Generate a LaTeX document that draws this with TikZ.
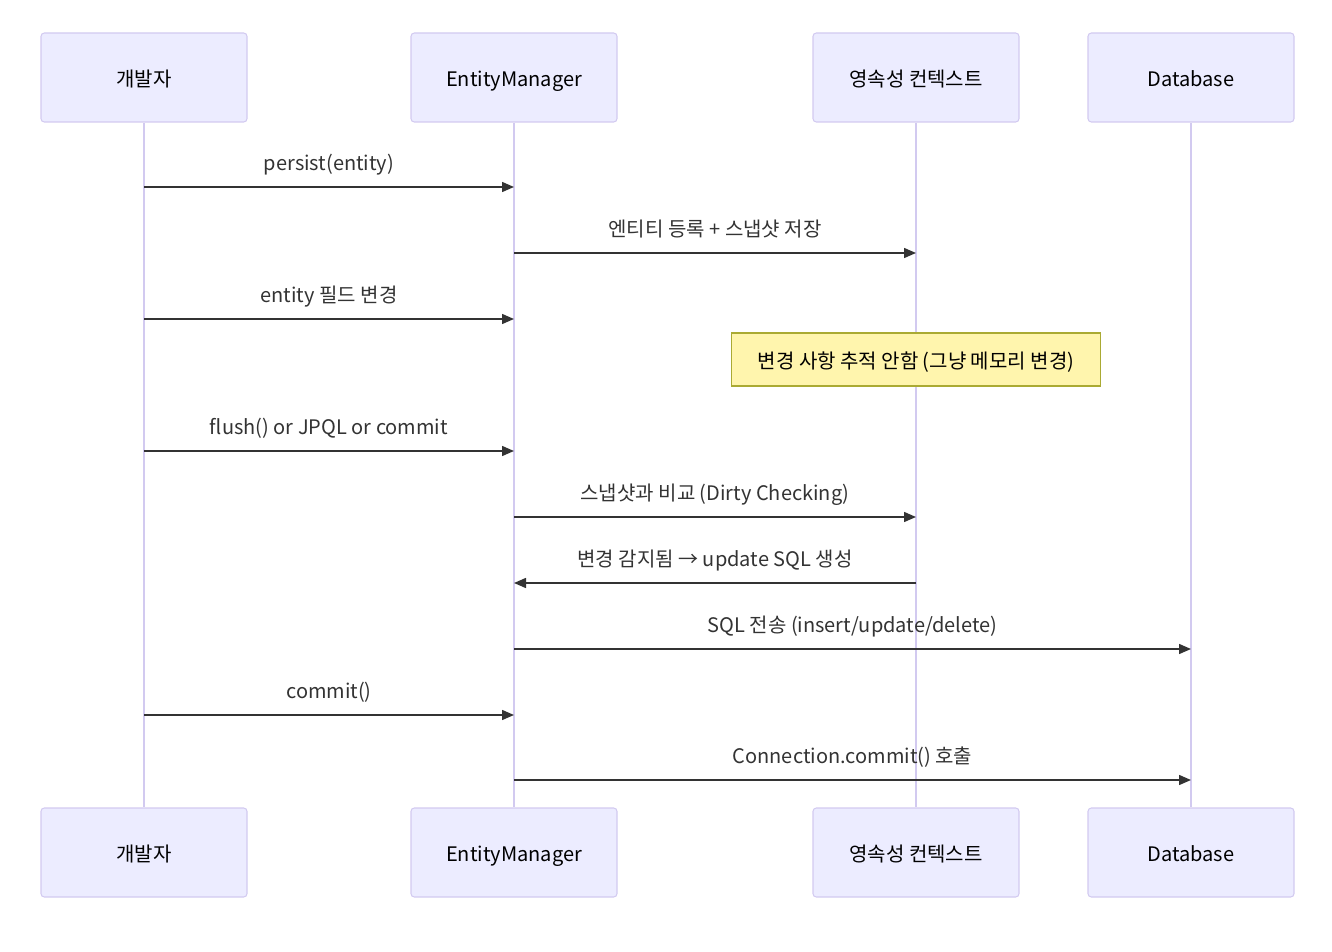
\documentclass[tikz,border=0pt]{standalone}
\usepackage{fontspec}
\setmainfont{Noto Sans CJK KR}
\usetikzlibrary{arrows.meta, positioning, backgrounds}
\definecolor{cActor}{HTML}{ECECFF}
\definecolor{cActorLine}{HTML}{D2CAF0}
\definecolor{cNote}{HTML}{FFF5AD}
\definecolor{cNoteLine}{HTML}{AAAA33}
\definecolor{cMsg}{HTML}{333333}

\begin{document}
\begin{tikzpicture}[
  x=0.75pt, y=-0.75pt,
  font=\fontsize{15}{17}\selectfont,
  >={Triangle[length=9pt, width=7.5pt]},
  actor/.style={rectangle, rounded corners=2.5pt, draw=cActorLine, line width=0.8pt,
                fill=cActor, minimum width=154.5pt, minimum height=66.75pt, inner sep=2pt,
                text height=16pt, text depth=2pt},
  life/.style={draw=cActorLine, line width=1.4pt},
  msg/.style={->, draw=cMsg, fill=cMsg, line width=1.1pt},
  lbl/.style={midway, yshift=16pt, inner sep=1pt, text=cMsg,
              text height=11pt, text depth=4pt},
  note/.style={rectangle, draw=cNoteLine, line width=0.8pt, fill=cNote,
               minimum width=276.75pt, minimum height=39.75pt, inner sep=2pt,
               text height=16pt, text depth=2pt},
]
\useasboundingbox (0,0) rectangle (1332,952);

% =========================== actors (top / bottom) ===========================
\node[actor] (dev) at (144,77.5)  {개발자};
\node[actor] (em)  at (514,77.5)  {EntityManager};
\node[actor] (pc)  at (916,77.5)  {영속성 컨텍스트};
\node[actor] (db)  at (1191,77.5) {Database};

\node[actor] (devB) at (144,852.5)  {개발자};
\node[actor] (emB)  at (514,852.5)  {EntityManager};
\node[actor] (pcB)  at (916,852.5)  {영속성 컨텍스트};
\node[actor] (dbB)  at (1191,852.5) {Database};

% lifelines
\begin{scope}[on background layer]
  \foreach \a in {dev, em, pc, db}
    \draw[life] (\a.south) -- (\a B.north);
\end{scope}

% message rows
\foreach \n/\y in {1/187, 2/253, 3/319, 5/451, 6/517, 7/583, 8/649, 9/715, 10/780}
  \coordinate (r\n) at (0,\y);

% =========================== messages ===========================
\draw[msg] (dev |- r1) -- node[lbl] {persist(entity)} (em |- r1);
\draw[msg] (em |- r2)  -- node[lbl] {엔티티 등록 + 스냅샷 저장} (pc |- r2);
\draw[msg] (dev |- r3) -- node[lbl] {entity 필드 변경} (em |- r3);

\node[note] (memo) at (916,359.5) {변경 사항 추적 안함 (그냥 메모리 변경)};

\draw[msg] (dev |- r5) -- node[lbl] {flush() or JPQL or commit} (em |- r5);
\draw[msg] (em |- r6)  -- node[lbl] {스냅샷과 비교 (Dirty Checking)} (pc |- r6);
\draw[msg] (pc |- r7)  -- node[lbl] {변경 감지됨 → update SQL 생성} (em |- r7);
\draw[msg] (em |- r8)  -- node[lbl] {SQL 전송 (insert/update/delete)} (db |- r8);
\draw[msg] (dev |- r9) -- node[lbl] {commit()} (em |- r9);
\draw[msg] (em |- r10) -- node[lbl] {Connection.commit() 호출} (db |- r10);

\end{tikzpicture}
\end{document}
